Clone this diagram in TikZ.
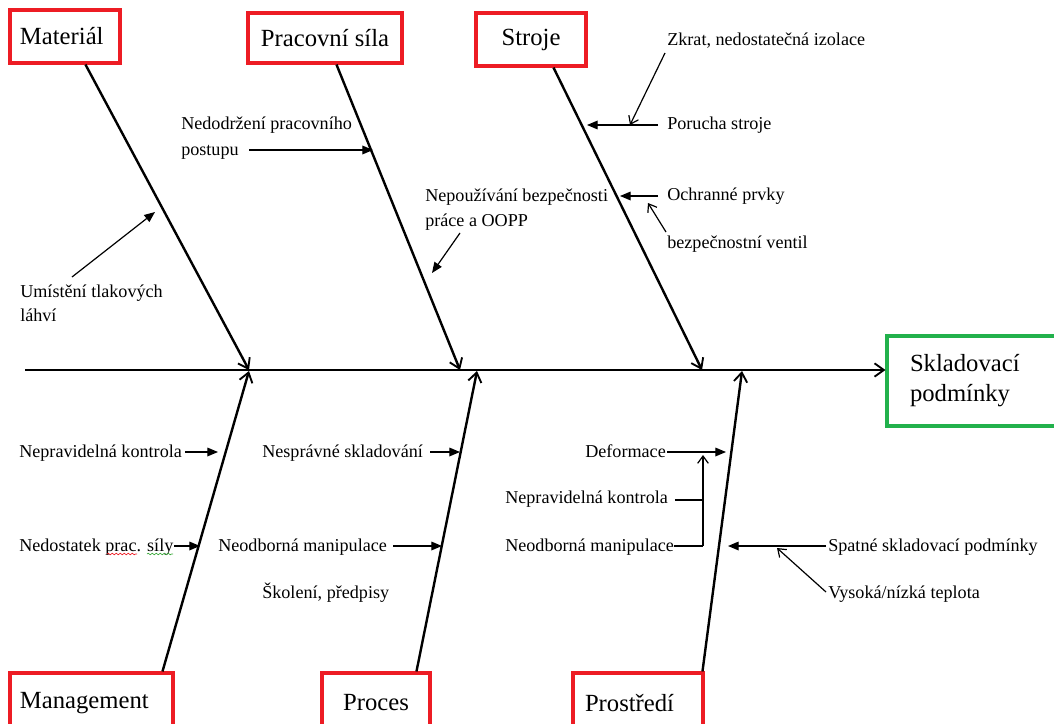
\documentclass[tikz,border=0pt]{standalone}
\usepackage{fontspec}
\setmainfont{Liberation Serif}
\usetikzlibrary{arrows.meta,decorations.pathmorphing}
\definecolor{boxred}{RGB}{237,28,36}
\definecolor{boxgreen}{RGB}{34,177,76}
\definecolor{spellgreen}{RGB}{60,170,60}
\begin{document}
\begin{tikzpicture}[x=0.75pt,y=-0.75pt,
  catbox/.style={draw=boxred,line width=2.3pt,font=\fontsize{18.5}{22.5}\selectfont,inner sep=0pt},
  effbox/.style={draw=boxgreen,line width=2.3pt,font=\fontsize{18.5}{22.5}\selectfont,inner ysep=0pt},
  lab/.style={font=\fontsize{13.6}{19}\selectfont,inner sep=0pt,anchor=base west},
  bone/.style={line width=1.8pt,-{Straight Barb[length=7pt,width=10pt,line width=1.4pt]}},
  spine/.style={line width=1.8pt,-{Straight Barb[length=7pt,width=10pt,line width=1.4pt]}},
  tri/.style={line width=0.9pt,-{Triangle[length=8pt,width=6.5pt]}},
  barb/.style={line width=0.9pt,-{Straight Barb[length=5.5pt,width=8pt,line width=0.9pt]}},
  plain/.style={line width=0.9pt},
  squig/.style={line width=0.5pt,decorate,decoration={snake,amplitude=0.6pt,segment length=3pt}}
]
\useasboundingbox (0,0) rectangle (1054,724);

% category boxes
\node[catbox,minimum height=39.75pt,text width=67.5pt,inner xsep=7.5pt,align=left] (mat) at (65,36.5) {Materiál};
\node[catbox,minimum width=115.5pt,minimum height=37.5pt] (pra) at (325,38) {Pracovní síla};
\node[catbox,minimum width=82.5pt,minimum height=39.75pt] (str) at (531,39.5) {Stroje};
\node[catbox,minimum height=45pt,text width=107.25pt,inner xsep=7.5pt,align=left] (man) at (91.5,703) {Management};
\node[catbox,minimum width=81pt,minimum height=45pt] (pro) at (376,703) {Proces};
\node[catbox,minimum height=45pt,text width=79.5pt,inner xsep=9pt,align=left] (prs) at (638,703) {Prostředí};
\node[effbox,minimum height=67.5pt,text width=96.75pt,inner xsep=17.25pt,align=left] (out) at (974.5,381) {Skladovací\\podmínky};

% spine
\coordinate (s0) at (25,370);
\draw[spine] (s0) -- (out.west |- s0);

% bones
\coordinate (j1) at (249,370);
\coordinate (j2) at (460,370);
\coordinate (j3) at (702,370);
\coordinate (k1) at (249,371);
\coordinate (k2) at (477,371);
\coordinate (k3) at (742,371);
\draw[bone] ([shift={(77,0)}]mat.south west) -- (j1);
\draw[bone] ([shift={(90,0)}]pra.south west) -- (j2);
\draw[bone] ([shift={(79,0)}]str.south west) -- (j3);
\draw[bone] ([shift={(154,0)}]man.north west) -- (k1);
\draw[bone] ([shift={(96,0)}]pro.north west) -- (k2);
\draw[bone] ([shift={(131,0)}]prs.north west) -- (k3);

% top labels
\node[lab] (umi1) at (20,297) {Umístění tlakových};
\node[lab] (umi2) at (20,321) {láhví};
\node[lab] (ned1) at (181,129) {Nedodržení pracovního};
\node[lab] (ned2) at (181,156) {postupu};
\node[lab] (nep1) at (425,201) {Nepoužívání bezpečnosti};
\node[lab] (nep2) at (425,226) {práce a OOPP};
\node[lab] (zkr) at (667,46) {Zkrat, nedostatečná izolace};
\node[lab] (por) at (667,129) {Porucha stroje};
\node[lab] (och) at (667,200) {Ochranné prvky};
\node[lab] (bez) at (667,248) {bezpečnostní ventil};

\coordinate (a1s) at (72,277);   \coordinate (a1e) at (155,212);
\coordinate (a2s) at (249,150);  \coordinate (a2e) at (373,150);
\coordinate (a3s) at (460,233);  \coordinate (a3e) at (432,273);
\coordinate (a4s) at (665,53);   \coordinate (a4e) at (630,125);
\coordinate (a5s) at (658,125);  \coordinate (a5e) at (587,125);
\coordinate (a6s) at (658,196);  \coordinate (a6e) at (620,196);
\coordinate (a7s) at (666,232);  \coordinate (a7e) at (648,203);
\draw[tri] (a1s) -- (a1e);
\draw[tri] (a2s) -- (a2e);
\draw[tri] (a3s) -- (a3e);
\draw[barb] (a4s) -- (a4e);
\draw[tri] (a5s) -- (a5e);
\draw[tri] (a6s) -- (a6e);
\draw[barb] (a7s) -- (a7e);

% bottom labels
\node[lab] (nk1) at (19,457) {Nepravidelná kontrola};
\node[lab] (nds) at (19,551) {Nedostatek prac. síly};
\node[lab] (nsk) at (262,457) {Nesprávné skladování};
\node[lab] (nm1) at (218,551) {Neodborná manipulace};
\node[lab] (sko) at (262,598) {Školení, předpisy};
\node[lab] (def) at (585,457) {Deformace};
\node[lab] (nk2) at (505,503) {Nepravidelná kontrola};
\node[lab] (nm2) at (505,551) {Neodborná manipulace};
\node[lab] (spa) at (828,551) {Spatné skladovací podmínky};
\node[lab] (vys) at (828,598) {Vysoká/nízká teplota};

\draw[squig,boxred] (107,554) -- (137,554);
\draw[squig,spellgreen] (147,554) -- (173,554);

\coordinate (b1s) at (185,452);  \coordinate (b1e) at (218,452);
\coordinate (b2s) at (174,546);  \coordinate (b2e) at (200,546);
\coordinate (b3s) at (430,452);  \coordinate (b3e) at (460,452);
\coordinate (b4s) at (393,546);  \coordinate (b4e) at (442,546);
\coordinate (b5s) at (667,452);  \coordinate (b5e) at (726,452);
\coordinate (br1) at (703,546);  \coordinate (br2) at (703,500);
\coordinate (br3) at (703,455);
\coordinate (b6s) at (826,546);  \coordinate (b6e) at (728,546);
\coordinate (b7s) at (826,592);  \coordinate (b7e) at (777,548);
\draw[tri] (b1s) -- (b1e);
\draw[tri] (b2s) -- (b2e);
\draw[tri] (b3s) -- (b3e);
\draw[tri] (b4s) -- (b4e);
\draw[tri] (b5s) -- (b5e);
\draw[plain] (nm2.base east |- br1) -- (br1);
\draw[barb] (br1) -- (br3);
\draw[plain] ([xshift=5]nk2.base east |- br2) -- (br2);
\draw[tri] (b6s) -- (b6e);
\draw[barb] (b7s) -- (b7e);
\end{tikzpicture}
\end{document}
